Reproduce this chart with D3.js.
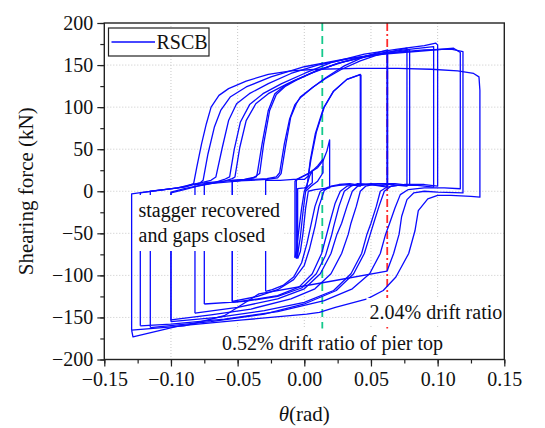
<!DOCTYPE html>
<html>
<head>
<meta charset="utf-8">
<script src="https://cdn.jsdelivr.net/npm/d3@7"></script>
<style>
  body { margin: 0; background: #fff; }
</style>
</head>
<body>
<div id="vis"></div>
<script>
// ---------------------------------- datos ----------------------------------
const xTicks = [-0.15, -0.10, -0.05, 0.00, 0.05, 0.10, 0.15];
const yTicks = [-200, -150, -100, -50, 0, 50, 100, 150, 200];
const seriesName = "RSCB";
const driftGreen = 0.0135;   // 0.52% drift ratio of pier top
const driftRed = 0.0622;     // 2.04% drift ratio

// ciclos [theta (rad), fuerza (kN)]
const c1 = [[0,0],[0.002,8],[0.004,18],[0.006,25],[0.006,10],[0.003,6],[0.0,0],[-0.002,-20],[-0.004,-45],[-0.006,-70],[-0.007,-79]];
const c2 = [[-0.007,-79],[-0.007,12],[-0.003,16],[0.002,20],[0.006,24],[0.010,30],[0.013,36],[0.014,38],[0.014,22],[0.010,12],[0.005,6],[0.001,0],[-0.001,-25],[-0.003,-55],[-0.005,-75],[-0.006,-80]];
const c3 = [[-0.006,-80],[-0.006,14],[-0.002,17],[0.004,22],[0.010,28],[0.014,36],[0.017,48],[0.019,61],[0.019,4],[0.014,3],[0.008,2],[0.003,0],[0.001,-20],[-0.001,-50],[-0.003,-72],[-0.005,-80]];
const c4 = [[-0.005,-80],[-0.005,3],[0.0,4],[0.002,5],[0.0044,36],[0.0082,68],[0.0144,99],[0.0219,119],[0.0319,133],[0.0406,138],[0.042,139],[0.042,6],[0.034,8],[0.026,7],[0.018,5],[0.012,0],[0.008,-18],[0.005,-40],[0.002,-62],[-0.002,-85],[-0.008,-102],[-0.016,-112],[-0.024,-117],[-0.029,-119]];
const c5 = [[-0.029,-119],[-0.029,13],[-0.018,13],[-0.008,14],[0.0,14],[0.003,18],[0.005,38],[0.009,70],[0.015,100],[0.022,119],[0.032,133],[0.041,138],[0.0425,138],[0.0425,7],[0.034,9],[0.026,8],[0.02,6],[0.015,1],[0.011,-18],[0.008,-42],[0.004,-68],[0.0,-88],[-0.008,-105],[-0.02,-117],[-0.035,-125],[-0.054,-131]];
const c6 = [[-0.054,-131],[-0.054,12],[-0.04,13],[-0.028,14],[-0.02,16],[-0.0174,21],[-0.0138,56],[-0.0102,88],[-0.006,104],[-0.003,112],[0.0066,124],[0.016,134],[0.028,145],[0.042,155],[0.055,162],[0.062,166],[0.062,5],[0.05,8],[0.04,8],[0.032,6],[0.027,0],[0.023,-15],[0.019,-38],[0.017,-50],[0.013,-74],[0.006,-98],[-0.004,-114],[-0.02,-124],[-0.035,-128],[-0.054,-132]];
const c7 = [[-0.054,-132],[-0.054,13],[-0.04,14],[-0.028,15],[-0.021,17],[-0.0185,22],[-0.015,56],[-0.011,86],[-0.007,103],[-0.003,111],[0.006,123],[0.016,135],[0.03,149],[0.045,160],[0.058,166],[0.0625,168],[0.0625,6],[0.05,8],[0.04,9],[0.035,6],[0.03,0],[0.026,-18],[0.022,-42],[0.0205,-52],[0.016,-76],[0.009,-98],[-0.002,-115],[-0.02,-125],[-0.045,-131],[-0.075,-134]];
const c8 = [[-0.075,-134],[-0.075,10],[-0.06,12],[-0.045,14],[-0.036,17],[-0.0353,21],[-0.0317,56],[-0.027,96],[-0.0221,116],[-0.015,125],[-0.0077,131.5],[0.009,143],[0.025,152],[0.045,160],[0.065,166],[0.077,170],[0.077,6],[0.065,8],[0.05,9],[0.04,6],[0.036,0],[0.032,-18],[0.028,-38],[0.0245,-51],[0.02,-74],[0.012,-98],[0.0,-116],[-0.02,-128],[-0.05,-138],[-0.082,-145]];
const c9 = [[-0.082,-145],[-0.082,8],[-0.065,10],[-0.05,12],[-0.038,16],[-0.0335,21],[-0.0305,56],[-0.026,96],[-0.021,115],[-0.014,125],[-0.006,132],[0.01,144],[0.03,154],[0.05,161],[0.068,165],[0.079,168],[0.079,7],[0.068,9],[0.055,9],[0.046,6],[0.042,0],[0.039,-18],[0.035,-38],[0.033,-51],[0.028,-74],[0.02,-98],[0.008,-116],[-0.01,-128],[-0.04,-140],[-0.07,-147],[-0.1,-153]];
const c10 = [[-0.1,-153],[-0.1,-2],[-0.09,2],[-0.08,6],[-0.07,9],[-0.06,12],[-0.054,15],[-0.052,17],[-0.0484,52],[-0.0436,84],[-0.0364,104],[-0.027,116],[-0.0125,128],[0.005,140],[0.025,152],[0.05,162],[0.075,168],[0.097,172],[0.097,5],[0.085,7],[0.07,7],[0.062,5],[0.057,0],[0.054,-18],[0.05,-38],[0.047,-51],[0.043,-74],[0.035,-98],[0.022,-118],[0.0,-132],[-0.03,-142],[-0.065,-150],[-0.1,-155]];
const c11 = [[-0.1,-155],[-0.1,-1],[-0.09,3],[-0.078,7],[-0.068,10],[-0.06,14],[-0.056,17],[-0.0525,50],[-0.048,82],[-0.041,103],[-0.031,116],[-0.017,128],[0.0,140],[0.02,153],[0.045,163],[0.07,169],[0.09,173],[0.0986,176],[0.100,174],[0.100,6],[0.09,8],[0.075,8],[0.065,6],[0.06,0],[0.056,-18],[0.052,-38],[0.0495,-51],[0.045,-74],[0.037,-98],[0.024,-118],[0.0,-134],[-0.03,-146],[-0.07,-155],[-0.1155,-162]];
const c12 = [[-0.1155,-162],[-0.1155,0],[-0.105,2],[-0.09,5],[-0.078,10],[-0.07,13],[-0.0663,17],[-0.0615,52],[-0.0568,84],[-0.0508,104],[-0.0412,116],[-0.027,128],[-0.01,140],[0.01,150],[0.035,158],[0.06,163],[0.09,167],[0.112,170],[0.117,165],[0.117,3],[0.105,4],[0.09,4],[0.078,2],[0.072,-4],[0.068,-20],[0.064,-38],[0.061,-51],[0.057,-74],[0.049,-98],[0.036,-116],[0.015,-130],[-0.02,-143],[-0.06,-152],[-0.1,-158],[-0.123,-160]];
const c13 = [[-0.123,-160],[-0.123,-2],[-0.11,1],[-0.095,4],[-0.085,8],[-0.078,10],[-0.0759,13],[-0.0723,44],[-0.0675,76],[-0.0627,96],[-0.0556,112],[-0.0436,124],[-0.025,136],[0.0,148],[0.03,157],[0.06,164],[0.09,168],[0.11,169],[0.119,166],[0.119,162],[0.119,-2],[0.1,-1],[0.09,0],[0.082,-2],[0.077,-10],[0.073,-30],[0.0711,-51],[0.067,-74],[0.062,-95],[0.02,-107],[-0.034,-122],[-0.06,-148],[-0.09,-160],[-0.1295,-165]];
const c14 = [[-0.1295,-165],[-0.1295,-3],[-0.12,-1],[-0.105,2],[-0.095,4],[-0.088,6],[-0.083,9],[-0.0807,28],[-0.0771,56],[-0.0735,80],[-0.0699,100],[-0.064,114],[-0.0568,122],[-0.0436,131],[-0.027,139],[-0.01,143],[0.01,145],[0.04,146],[0.07,146],[0.095,145],[0.115,143],[0.127,140],[0.131,136],[0.1317,120],[0.1317,-7],[0.125,-6],[0.11,-5],[0.1,-5],[0.0926,-9],[0.0855,-23],[0.083,-47],[0.0783,-74],[0.0687,-102],[0.0592,-118],[0.0472,-128],[0.0233,-138],[0.0113,-144],[0.0018,-146],[-0.046,-153],[-0.0938,-160],[-0.1285,-173],[-0.1295,-165]];

const ciclos = [c1, c2, c3, c4, c5, c6, c7, c8, c9, c10, c11, c12, c13, c14];

// ---------------------------------- fuente ----------------------------------
// busca una fuente serif instalada comparando anchos contra monospace
function fuenteSerif() {
    const candidatas = ["Liberation Serif", "Times New Roman", "DejaVu Serif", "Noto Serif", "Tinos", "FreeSerif", "Nimbus Roman", "Times"];
    const ctx = document.createElement("canvas").getContext("2d");
    const muestra = "abcdefghijklmnopqrstuvwxyz0123456789";
    ctx.font = "40px monospace";
    const base = ctx.measureText(muestra).width;
    for (const f of candidatas) {
        ctx.font = `40px "${f}", monospace`;
        if (Math.abs(ctx.measureText(muestra).width - base) > 0.5) return `"${f}", serif`;
    }
    return "serif";
}
const FUENTE = fuenteSerif();

// ---------------------------------- svg ----------------------------------
const WIDTH = 545;
const HEIGHT = 428;
const SVG = d3.select("#vis").append("svg").attr("width", WIDTH).attr("height", HEIGHT);

const LEFT = 104.3, RIGHT = 504.3, TOP = 23, BOTTOM = 359.5;

const x = d3.scaleLinear().domain([-0.15, 0.15]).range([LEFT, RIGHT]);
const y = d3.scaleLinear().domain([-200, 200]).range([BOTTOM, TOP]);

// grilla punteada
SVG.append("g").selectAll("line.gx")
    .data(xTicks.slice(1, -1))
    .enter().append("line")
    .attr("x1", d => x(d)).attr("x2", d => x(d))
    .attr("y1", TOP).attr("y2", BOTTOM)
    .attr("stroke", "#c8c8c8").attr("stroke-width", 1).attr("stroke-dasharray", "1,2");

SVG.append("g").selectAll("line.gy")
    .data(yTicks.slice(1, -1))
    .enter().append("line")
    .attr("x1", LEFT).attr("x2", RIGHT)
    .attr("y1", d => y(d)).attr("y2", d => y(d))
    .attr("stroke", "#c8c8c8").attr("stroke-width", 1).attr("stroke-dasharray", "1,2");

// lineas de deriva
SVG.append("line")
    .attr("x1", x(driftGreen)).attr("x2", x(driftGreen))
    .attr("y1", TOP).attr("y2", BOTTOM)
    .attr("stroke", "#14c98c").attr("stroke-width", 1.8).attr("stroke-dasharray", "8,5");

SVG.append("line")
    .attr("x1", x(driftRed)).attr("x2", x(driftRed))
    .attr("y1", TOP).attr("y2", BOTTOM)
    .attr("stroke", "#ff2a2a").attr("stroke-width", 1.8).attr("stroke-dasharray", "8,3,2,3");

// curvas histereticas
const linea = d3.line().x(d => x(d[0])).y(d => y(d[1]));

SVG.append("g").selectAll("path.ciclo")
    .data(ciclos)
    .enter().append("path")
    .attr("class", "ciclo")
    .attr("d", linea)
    .attr("fill", "none")
    .attr("stroke", "#0a0aff")
    .attr("stroke-width", 1.3)
    .attr("stroke-linejoin", "round");

// cajas de texto con fondo blanco
function etiqueta(lineas, x0, y0, dy, pad) {
    const g = SVG.append("g");
    const rect = g.append("rect").attr("fill", "white");
    const t = g.append("text").style("font-family", FUENTE).style("font-size", "20px").attr("fill", "#111");
    lineas.forEach((s, i) => {
        t.append("tspan").attr("x", x0).attr("y", y0 + i * dy).text(s);
    });
    const b = t.node().getBBox();
    rect.attr("x", b.x - pad).attr("y", b.y - pad)
        .attr("width", b.width + 2 * pad).attr("height", b.height + 2 * pad);
}

etiqueta(["stagger recovered", "and gaps closed"], 138.5, 217, 25, 4);
etiqueta(["2.04% drift ratio"], 369.5, 319, 0, 3);
etiqueta(["0.52% drift ratio of pier top"], 222, 349.5, 0, 3);

// ejes
const minorX = d3.range(-0.15, 0.1501, 0.025);
const minorY = d3.range(-200, 201, 25);

const ejeX = SVG.append("g").attr("transform", `translate(0,${BOTTOM})`)
    .call(d3.axisBottom(x).tickValues(xTicks).tickFormat(d3.format(".2f")).tickSize(7).tickPadding(5));
SVG.append("g").attr("transform", `translate(0,${BOTTOM})`)
    .call(d3.axisBottom(x).tickValues(minorX).tickFormat("").tickSize(4));

const ejeY = SVG.append("g").attr("transform", `translate(${LEFT},0)`)
    .call(d3.axisLeft(y).tickValues(yTicks).tickFormat(d3.format("d")).tickSize(7).tickPadding(4));
SVG.append("g").attr("transform", `translate(${LEFT},0)`)
    .call(d3.axisLeft(y).tickValues(minorY).tickFormat("").tickSize(4));

SVG.selectAll(".domain").remove();
SVG.selectAll(".tick line").attr("stroke", "#222").attr("stroke-width", 1.2);
ejeX.selectAll("text").style("font-size", "20px").style("font-family", FUENTE).attr("fill", "#111");
ejeY.selectAll("text").style("font-size", "20px").style("font-family", FUENTE).attr("fill", "#111");

// marco
SVG.append("rect")
    .attr("x", LEFT).attr("y", TOP)
    .attr("width", RIGHT - LEFT).attr("height", BOTTOM - TOP)
    .attr("fill", "none").attr("stroke", "#222").attr("stroke-width", 1.4);

// leyenda
SVG.append("rect")
    .attr("x", 108.5).attr("y", 28).attr("width", 100.5).attr("height", 28)
    .attr("fill", "white").attr("stroke", "#222").attr("stroke-width", 1.2);
SVG.append("line")
    .attr("x1", 111.5).attr("x2", 155).attr("y1", 42).attr("y2", 42)
    .attr("stroke", "#0a0aff").attr("stroke-width", 1.5);
SVG.append("text")
    .attr("x", 156.5).attr("y", 49)
    .style("font-family", FUENTE).style("font-size", "20px").attr("fill", "#111")
    .text(seriesName);

// titulos
SVG.append("text")
    .attr("transform", `translate(33,${(TOP + BOTTOM) / 2}) rotate(-90)`)
    .attr("text-anchor", "middle")
    .style("font-family", FUENTE).style("font-size", "21px").attr("fill", "#111")
    .text("Shearing force (kN)");

const tx = SVG.append("text")
    .attr("x", (LEFT + RIGHT) / 2).attr("y", 421)
    .attr("text-anchor", "middle")
    .style("font-family", FUENTE).style("font-size", "21px").attr("fill", "#111");
tx.append("tspan").attr("font-style", "italic").text("θ");
tx.append("tspan").text("(rad)");
</script>
</body>
</html>
